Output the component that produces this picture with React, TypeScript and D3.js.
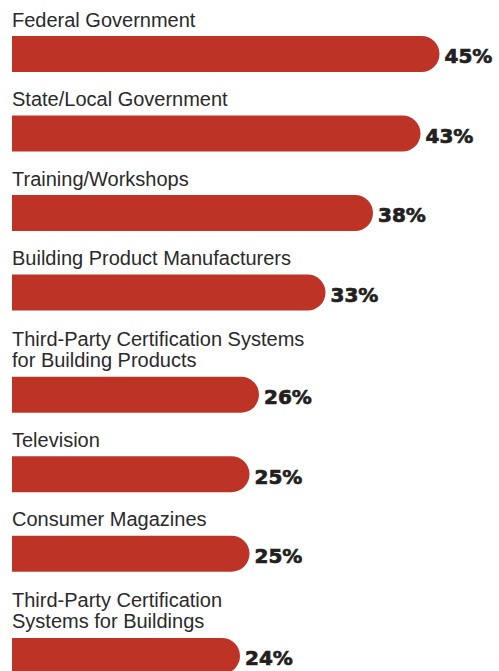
import React from "react";
import * as d3 from "d3";

const categories: string[][] = [
  ["Federal Government"],
  ["State/Local Government"],
  ["Training/Workshops"],
  ["Building Product Manufacturers"],
  ["Third-Party Certification Systems", "for Building Products"],
  ["Television"],
  ["Consumer Magazines"],
  ["Third-Party Certification", "Systems for Buildings"],
];
const values: number[] = [45, 43, 38, 33, 26, 25, 25, 24];

const W = 499;
const H = 671;
const BAR_H = 36;
const PITCH = 79.5;
const EXTRA_LINE = 22.7;
const LINE_H = 21;

export default function App() {
  const x = d3.scaleLinear().domain([0, 45]).range([12, 439.5]);
  let extra = 0;
  const items = categories.map((lines, i) => {
    extra += (lines.length - 1) * EXTRA_LINE;
    const top = 36 + PITCH * i + extra;
    return { lines, top, v: values[i] };
  });
  const r = BAR_H / 2;
  return (
    <svg
      width={W}
      height={H}
      style={{ position: "absolute", left: 0, top: 0, background: "#fff" }}
    >
      {items.map((d, i) => {
        const x0 = x(0);
        const x1 = x(d.v);
        const p = d3.path();
        p.moveTo(x0, d.top);
        p.lineTo(x1 - r, d.top);
        p.arc(x1 - r, d.top + r, r, -Math.PI / 2, Math.PI / 2);
        p.lineTo(x0, d.top + BAR_H);
        p.closePath();
        return (
          <g key={i}>
            {d.lines.map((t, j) => (
              <text
                key={j}
                x={12}
                y={d.top - 9.5 - (d.lines.length - 1 - j) * LINE_H}
                fontFamily="'Liberation Sans', Arial, sans-serif"
                fontSize={20}
                fill="#2a2a2a"
              >
                {t}
              </text>
            ))}
            <path d={p.toString()} fill="#bd3427" />
            <text
              x={x1 + 5}
              y={d.top + 27.3}
              fontFamily="'DejaVu Sans', sans-serif"
              fontWeight="bold"
              fontSize={20}
              fill="#231f20"
              stroke="#231f20"
              strokeWidth={0.7}
            >
              {d.v}%
            </text>
          </g>
        );
      })}
    </svg>
  );
}
